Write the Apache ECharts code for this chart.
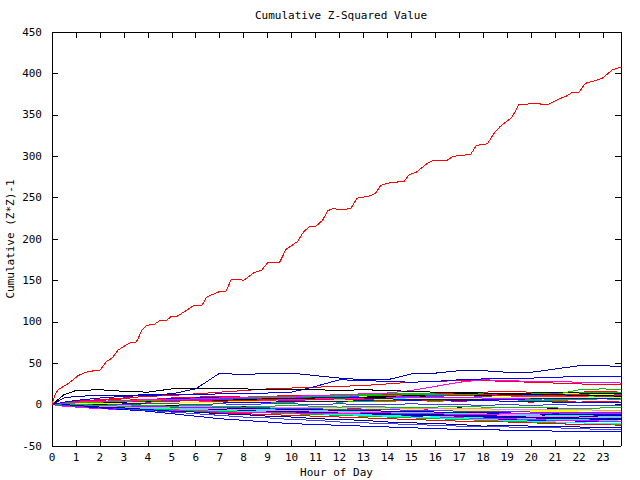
<!DOCTYPE html>
<html><head><meta charset="utf-8">
<script src="https://cdn.jsdelivr.net/npm/echarts@6/dist/echarts.min.js"></script>
<style>html,body{margin:0;padding:0;background:#fff}#c{width:640px;height:480px}#c svg path{shape-rendering:crispEdges}</style>
</head><body><div id="c"></div>
<script>
// tick labels / axis data
var xTicks = [0,1,2,3,4,5,6,7,8,9,10,11,12,13,14,15,16,17,18,19,20,21,22,23];
var yTicks = [-50,0,50,100,150,200,250,300,350,400,450];
// sample hours for the bundle of lines
var hours = [0,0.5,1,2,3,4,5,6,7,8,9,10,11,12,13,14,15,16,17,18,19,20,21,22,23,23.75];

// the dominant red trace
var mainX = [0,0.1,0.25,0.6,0.88,1.09,1.5,2.0,2.27,2.5,2.76,3.1,3.3,3.5,3.6,3.75,3.95,4.26,4.47,4.76,5.0,5.24,5.63,5.9,6.25,6.46,6.95,7.25,7.48,7.83,8.0,8.41,8.76,9.0,9.5,9.77,10.25,10.5,10.75,11.0,11.3,11.5,11.75,12.03,12.48,12.73,13.2,13.5,13.73,14.12,14.7,14.91,15.2,15.65,15.93,16.49,16.74,17.04,17.49,17.71,18.18,18.43,18.71,19.2,19.48,20.1,20.41,20.73,21.08,21.5,21.71,21.99,22.26,22.68,22.96,23.38,23.75];
var mainY = [0,10,18,24,30,35,40,41.5,52,56,66,72,75,75,80,90,96,96.5,101,101,107,107,114,119.5,119.5,130,136,136,151,151,150,159,162.5,171.5,172,187.6,197,208.6,215,215,222.8,234,237,235,237,249.4,251.4,255,265,268,269.6,277.6,280.5,291,295,295,300,300.6,302.7,313,315,327,336,347,362,363.6,363,363,368,373,377,377,388,391.4,394,404,407.6];

// distinctive lines
var topBlue    = [0,8,10,11,11,12,13,19,38,36,38,38,35,32,30,30,37,38,41,41,39,39,43,47,47,46];
var blackTop   = [0,12,17,18,16,15,19,20,20,19,18,18,18,17,18,17,16,15,15,14,13,12,12,11,11,10];
var blue2      = [0,3,5,8,10,11,12,12,13,14,14,15,22,30,29,28,27,28,30,31,31,32,33,34,34,34];
var magentaUp  = [0,2,3,4,5,6,6,7,8,9,10,10,11,12,13,14,17,22,27,30,29,28,28,27,27,26];
var redTop     = [0,2,4,6,8,10,11,13,15,17,19,20,21,22,23,25,27,28,29,29,28,27,26,25,24,24];
var greenEnd   = [0,1,2,3,4,5,6,7,8,8,9,9,10,10,11,11,12,12,12,13,13,12,12,18,19,18];
var bottom1    = [0,-1,-2,-4,-6,-8,-11,-14,-17,-19,-21,-23,-24,-25,-26,-27,-28,-29,-30,-30,-31,-31,-32,-32,-33,-33];
var bottom2    = [0,-1,-2,-3,-5,-7,-9,-11,-13,-15,-16,-18,-19,-21,-22,-23,-24,-25,-26,-27,-27,-28,-28,-29,-30,-30];
var bottom3    = [0,0,-1,-3,-4,-6,-8,-9,-11,-12,-14,-15,-17,-18,-19,-21,-22,-23,-24,-26,-25,-26,-27,-27,-28,-28];

// the bundle
var b01 = [0,3,4,5,7,6,8,9,10,9,10,11,10,12,13,12,13,14,14,15,16,15,14,15,16,15];
var b02 = [0,2,3,4,4,5,6,7,7,8,9,10,11,11,12,13,13,14,15,14,13,14,13,14,15,14];
var b03 = [0,-1,-2,-2,-3,-5,-6,-6,-7,-9,-10,-10,-11,-12,-13,-13,-14,-16,-17,-17,-18,-19,-19,-20,-21,-21];
var b04 = [0,1,1,2,3,3,4,5,5,4,5,6,7,7,8,9,10,11,12,12,13,12,13,12,13,12];
var b05 = [0,-2,-3,-4,-5,-6,-6,-7,-8,-8,-9,-10,-11,-11,-12,-13,-13,-14,-15,-16,-16,-17,-18,-18,-19,-20];
var b06 = [0,2,3,3,4,5,6,6,7,8,8,9,9,10,10,11,11,12,12,11,11,12,13,13,12,12];
var b07 = [0,1,2,3,3,4,4,5,6,6,7,7,8,8,9,9,10,10,11,11,12,12,11,11,10,10];
var b08 = [0,0,-1,-2,-2,-3,-4,-4,-5,-5,-6,-7,-7,-8,-9,-9,-10,-10,-11,-12,-12,-13,-13,-14,-14,-15];
var b09 = [0,0,-1,-2,-3,-3,-4,-5,-5,-6,-6,-7,-8,-8,-9,-10,-10,-11,-12,-12,-13,-13,-12,-13,-14,-14];
var b10 = [0,1,2,4,5,5,6,7,6,7,8,8,9,10,9,10,11,10,11,12,11,12,13,12,11,12];
var b11 = [0,-1,-1,-2,-2,-1,-2,-3,-2,-3,-4,-3,-4,-5,-4,-5,-6,-5,-6,-7,-6,-7,-8,-7,-8,-8];
var b12 = [0,1,2,2,3,3,2,3,4,4,3,4,5,5,4,5,6,6,5,6,7,6,5,6,7,7];
var b13 = [0,-1,-2,-3,-3,-4,-5,-6,-6,-7,-8,-9,-9,-10,-11,-11,-12,-13,-14,-14,-15,-16,-16,-17,-17,-18];
var b14 = [0,-1,-2,-4,-5,-6,-7,-8,-9,-10,-10,-11,-12,-13,-13,-14,-15,-15,-16,-17,-17,-18,-19,-19,-20,-20];
var b15 = [0,1,1,2,2,3,3,3,4,4,5,5,5,6,6,7,7,7,8,8,9,9,9,10,10,10];
var b16 = [0,-1,-1,-1,-2,-2,-3,-3,-3,-4,-4,-4,-5,-5,-6,-6,-6,-7,-7,-7,-8,-8,-8,-9,-9,-9];
var b17 = [0,1,1,0,0,-1,-1,-2,-2,-2,-3,-3,-4,-4,-3,-4,-5,-5,-4,-5,-6,-6,-5,-6,-7,-7];
var b18 = [0,-1,-2,-2,-3,-4,-4,-5,-6,-7,-7,-8,-9,-9,-10,-11,-11,-12,-13,-13,-14,-15,-15,-16,-16,-17];
var b19 = [0,0,-1,-1,-2,-3,-3,-4,-4,-5,-6,-6,-7,-7,-8,-9,-9,-10,-10,-11,-12,-12,-13,-12,-13,-13];
var b20 = [0,1,2,3,4,5,5,6,7,8,8,9,10,10,9,10,10,11,11,10,11,11,12,11,10,10];
var b21 = [0,-2,-3,-4,-6,-7,-8,-9,-10,-11,-12,-13,-14,-15,-16,-17,-18,-19,-20,-21,-21,-22,-23,-24,-24,-25];
var b22 = [0,0,1,1,2,1,2,2,3,2,3,3,4,3,4,4,5,4,5,5,6,5,6,6,7,6];
var b23 = [0,-1,-1,-2,-2,-3,-3,-4,-4,-5,-5,-6,-6,-7,-7,-8,-8,-9,-9,-10,-10,-11,-11,-12,-12,-12];
var b24 = [0,1,2,3,3,4,4,5,5,6,6,6,7,7,7,8,8,8,9,9,9,10,10,10,11,11];
var b25 = [0,-1,-1,-2,-3,-3,-4,-4,-5,-6,-6,-7,-7,-8,-9,-9,-10,-10,-11,-12,-11,-12,-13,-13,-14,-14];
var b26 = [0,0,0,-1,-1,-1,-2,-2,-2,-3,-3,-3,-4,-4,-4,-5,-5,-5,-6,-6,-6,-7,-7,-7,-8,-8];
var b27 = [0,1,1,2,2,2,3,3,3,4,4,4,4,5,5,5,6,6,6,7,7,7,8,8,8,8];
var b28 = [0,-1,-2,-3,-4,-4,-5,-6,-7,-7,-8,-9,-10,-10,-11,-12,-13,-13,-14,-15,-15,-16,-17,-17,-18,-18];
var b29 = [0,0,-1,-1,-1,-2,-2,-2,-3,-3,-3,-3,-4,-4,-4,-4,-5,-5,-5,-5,-6,-6,-6,-6,-7,-7];
var b30 = [0,1,0,1,0,1,1,0,1,0,1,1,0,1,0,0,1,0,0,-1,0,-1,0,-1,-1,-1];
var b31 = [0,2,3,4,5,6,6,7,8,8,9,9,10,10,11,11,12,12,11,12,11,12,11,12,11,11];
var b32 = [0,-1,-2,-3,-4,-5,-6,-7,-8,-9,-10,-11,-12,-13,-14,-15,-16,-17,-18,-19,-20,-21,-22,-22,-23,-24];
var b33 = [0,0,1,1,1,2,2,2,3,3,3,4,4,4,5,5,5,6,6,6,6,7,7,7,7,8];
var b34 = [0,1,1,2,2,3,3,3,4,4,5,5,5,5,6,6,6,7,7,7,7,8,8,8,8,8];
var b35 = [0,-1,-2,-3,-4,-5,-5,-6,-7,-8,-9,-10,-11,-12,-13,-14,-15,-16,-17,-18,-19,-20,-21,-22,-23,-23];
var b36 = [0,1,1,1,2,2,3,3,3,4,4,5,5,5,6,6,7,7,7,8,8,8,9,9,9,9];
var b37 = [0,1,2,2,3,4,4,5,5,6,7,7,8,8,9,10,11,12,13,13,14,14,15,14,13,13];
var b38 = [0,0,-1,-1,-2,-2,-3,-3,-4,-5,-5,-6,-6,-7,-7,-8,-8,-9,-10,-10,-11,-11,-12,-12,-13,-13];
var b39 = [0,-1,-1,-2,-3,-3,-4,-5,-5,-6,-7,-7,-8,-9,-9,-10,-11,-11,-12,-12,-13,-14,-14,-15,-15,-16];
var b40 = [0,0,-1,-1,-2,-2,-3,-3,-4,-4,-4,-5,-5,-6,-6,-6,-7,-7,-8,-8,-8,-9,-9,-10,-10,-10];
var b41 = [0,2,2,3,4,3,4,5,4,5,6,5,6,7,6,5,6,5,4,5,4,3,4,3,4,3];
var b42 = [0,-1,0,-1,-2,-1,-2,-1,-2,-3,-2,-1,-2,-3,-2,-3,-4,-3,-2,-3,-4,-3,-4,-5,-4,-4];
var b43 = [0,1,3,4,5,6,7,8,9,9,10,10,9,8,8,7,6,6,5,5,4,4,3,3,2,2];
var b44 = [0,-2,-3,-5,-6,-7,-8,-8,-9,-9,-10,-10,-11,-11,-10,-10,-11,-11,-12,-12,-11,-11,-10,-11,-11,-11];

var bundle = [b01,b02,b03,b04,b05,b06,b07,b08,b09,b10,b11,b12,b13,b14,b15,b16,b17,b18,b19,b20,b21,b22,b23,b24,b25,b26,b27,b28,b29,b30,b31,b32,b33,b34,b35,b36,b37,b38,b39,b40,b41,b42,b43,b44];
var palette = ['#ff0000','#00c000','#0000ff','#ff00ff','#00ffff','#ffff00','#000000','#0000a0','#ff80ff','#4040ff'];

var FONT = 'DejaVu Sans Mono';
var FS = 11;

function pairs(xs, ys){ return ys.map(function(v,i){ return [xs[i], v]; }); }
function line(data, color, z){
  return {type:'line', data:data, showSymbol:false, symbol:'none', animation:false,
    lineStyle:{width:1, color:color}, itemStyle:{color:color}, z:z||2, silent:true};
}

var series = [];
bundle.forEach(function(arr, i){ series.push(line(pairs(hours, arr), palette[i % palette.length], 2)); });
series.push(line(pairs(hours, bottom1), '#0000ff', 3));
series.push(line(pairs(hours, bottom2), '#4040ff', 3));
series.push(line(pairs(hours, bottom3), '#0000a0', 3));
series.push(line(pairs(hours, greenEnd), '#00c000', 3));
series.push(line(pairs(hours, redTop), '#ff0000', 3));
series.push(line(pairs(hours, magentaUp), '#ff00ff', 3));
series.push(line(pairs(hours, blue2), '#0000ff', 3));
series.push(line(pairs(hours, blackTop), '#000000', 3));
series.push(line(pairs(hours, topBlue), '#0000b0', 3));
series.push(line(pairs(mainX, mainY), '#ff0000', 4));

var txt = {color:'#000', fontFamily:FONT, fontSize:FS};
var axLine = {show:true, onZero:false, lineStyle:{color:'#000', width:1}};
var axTick = {show:true, inside:true, length:6, lineStyle:{color:'#000', width:1}};

var chart = echarts.init(document.getElementById('c'), null, {renderer:'svg'});
chart.setOption({
  backgroundColor:'#fff',
  animation:false,
  title:{text:'Cumulative Z-Squared Value', left:336, top:5, textAlign:'center',
    textStyle:{color:'#000', fontFamily:FONT, fontSize:FS, fontWeight:'normal'}},
  grid:{left:52, right:19, top:32, bottom:34, containLabel:false, outerBoundsMode:'none'},
  xAxis:[
    {type:'value', min:xTicks[0], max:23.75, interval:1, position:'bottom',
      axisLine:axLine, axisTick:axTick, splitLine:{show:false},
      axisLabel:Object.assign({margin:6, showMaxLabel:false}, txt),
      name:'Hour of Day', nameLocation:'middle', nameGap:21, nameMoveOverlap:false, nameTextStyle:txt},
    {type:'value', min:xTicks[0], max:23.75, interval:1, position:'top',
      axisLine:axLine, axisTick:axTick, splitLine:{show:false}, axisLabel:{show:false}}
  ],
  yAxis:[
    {type:'value', min:yTicks[0], max:yTicks[yTicks.length-1], interval:50, position:'left',
      axisLine:axLine, axisTick:axTick, splitLine:{show:false},
      axisLabel:Object.assign({margin:10}, txt),
      name:'Cumulative (Z*Z)-1', nameLocation:'middle', nameGap:36, nameMoveOverlap:false, nameTextStyle:txt},
    {type:'value', min:yTicks[0], max:yTicks[yTicks.length-1], interval:50, position:'right',
      axisLine:axLine, axisTick:axTick, splitLine:{show:false}, axisLabel:{show:false}}
  ],
  series:series
});
</script>
</body></html>
